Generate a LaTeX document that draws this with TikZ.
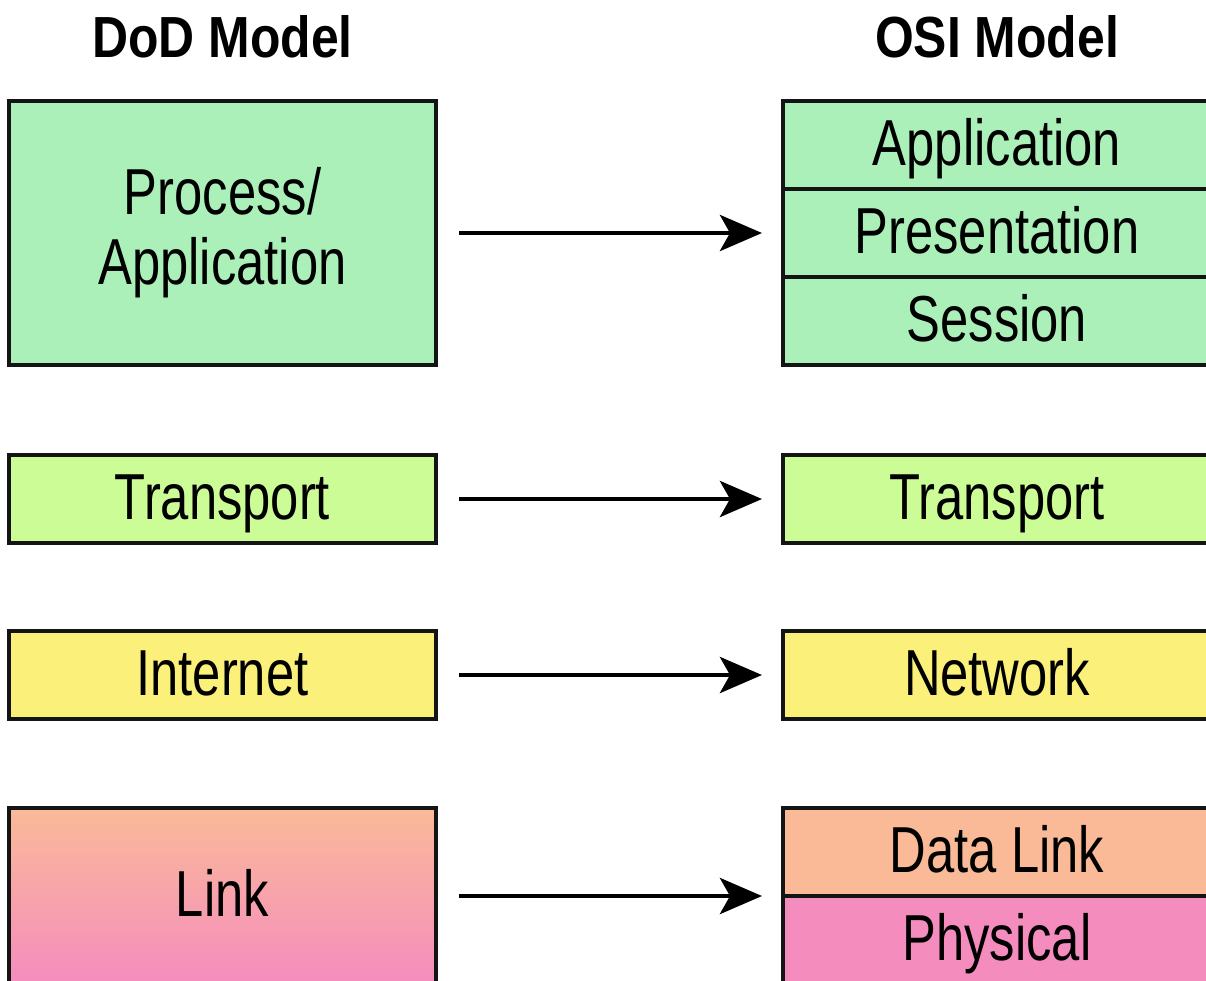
\documentclass[tikz,border=0pt]{standalone}
\usepackage{fontspec}
\setmainfont{Liberation Sans}[FakeStretch=0.78]
\newfontfamily\titlefont{Liberation Sans}[FakeStretch=0.86]
\usetikzlibrary{arrows.meta,positioning}

\definecolor{appgreen}{RGB}{170,240,184}
\definecolor{transgreen}{RGB}{204,252,150}
\definecolor{netyellow}{RGB}{250,240,122}
\definecolor{linkpeach}{RGB}{250,186,152}
\definecolor{linkpink}{RGB}{245,140,190}
\definecolor{edge}{RGB}{20,20,20}

\begin{document}
\begin{tikzpicture}[
  dodbox/.style={rectangle,draw=edge,line width=2.1pt,outer sep=0pt,inner sep=0pt,
    minimum width=8.54cm,align=center,font=\fontsize{37}{40}\selectfont},
  osibox/.style={rectangle,draw=edge,line width=2.1pt,outer sep=0pt,inner sep=0pt,
    minimum width=8.56cm,minimum height=1.76cm,align=center,font=\fontsize{37}{40}\selectfont},
  oneline/.style={text height=27.8pt,text depth=4pt},
  title/.style={anchor=base,font=\titlefont\bfseries\fontsize{33}{36}\selectfont},
  arrow/.style={-{Stealth[length=0.84cm,width=0.72cm,inset=0.2cm]},line width=2.8pt,
    shorten <=0.46cm,shorten >=0.42cm}
]
\useasboundingbox (0,0) rectangle (24.12,-19.62);
\clip (0,0) rectangle (24.12,-19.62);

% headings
\node[title] (dodtitle) at (4.45,-1.14) {DoD Model};
\node[title] (osititle) at (19.94,-1.14) {OSI Model};

% DoD layers
\node[dodbox,fill=appgreen,minimum height=5.28cm] (dodproc) at (4.45,-4.66) {Process/\\Application};
\node[dodbox,oneline,fill=transgreen,minimum height=1.76cm] (dodtrans) at (4.45,-9.98) {Transport};
\node[dodbox,oneline,fill=netyellow,minimum height=1.76cm] (dodinet) at (4.45,-13.5) {Internet};
\node[dodbox,oneline,top color=linkpeach,bottom color=linkpink,minimum height=3.52cm] (dodlink) at (4.45,-17.92) {Link};

% OSI layers
\node[osibox,oneline,fill=appgreen] (osiapp) at (19.94,-2.9) {Application};
\node[osibox,oneline,fill=appgreen,below=0pt of osiapp] (osipres) {Presentation};
\node[osibox,oneline,fill=appgreen,below=0pt of osipres] (osisess) {Session};
\node[osibox,oneline,fill=transgreen] (ositrans) at (19.94,-9.98) {Transport};
\node[osibox,oneline,fill=netyellow] (osinet) at (19.94,-13.5) {Network};
\node[osibox,oneline,fill=linkpeach] (osidl) at (19.94,-17.04) {Data Link};
\node[osibox,oneline,fill=linkpink,below=0pt of osidl] (osiphys) {Physical};

\draw[arrow] (dodproc.east) -- (dodproc.east -| osipres.west);
\draw[arrow] (dodtrans) -- (ositrans);
\draw[arrow] (dodinet) -- (osinet);
\draw[arrow] (dodlink.east) -- (dodlink.east -| osidl.west);
\end{tikzpicture}
\end{document}
